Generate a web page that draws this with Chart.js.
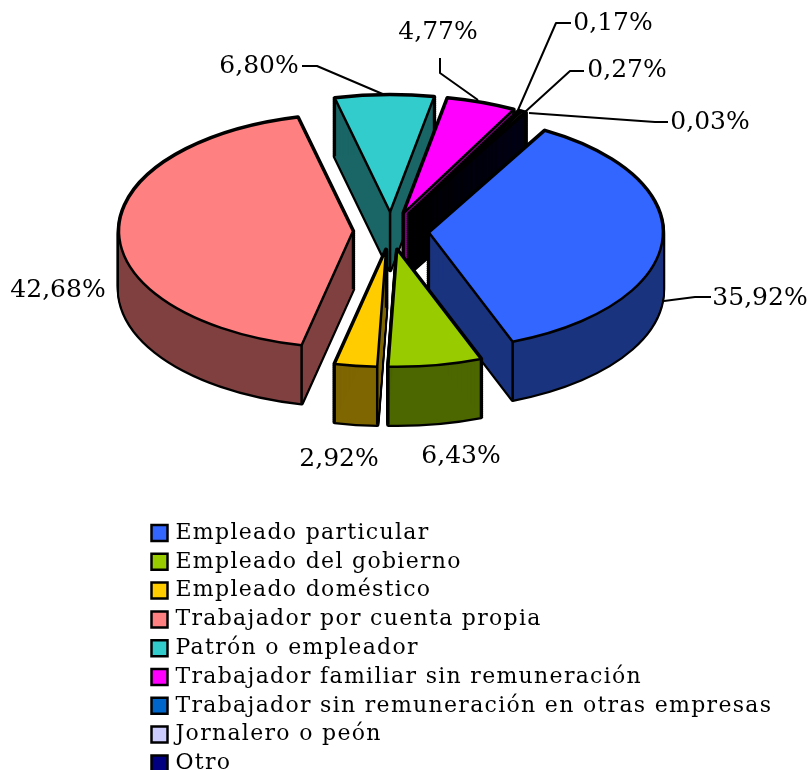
<!DOCTYPE html>
<html><head><meta charset="utf-8">
<style>html,body{margin:0;padding:0;background:#fff}canvas{display:block}</style>
<script src="https://cdn.jsdelivr.net/npm/chart.js@4"></script>
</head><body><canvas id="c" width="810" height="770"></canvas>
<script>
const categories = ["Empleado particular","Empleado del gobierno","Empleado doméstico","Trabajador por cuenta propia","Patrón o empleador","Trabajador familiar sin remuneración","Trabajador sin remuneración en otras empresas","Jornalero o peón","Otro"];
const shares = [35.92,6.43,2.92,42.68,6.80,4.77,0.17,0.27,0.03];
const topColors = ["#3366FF","#99CC00","#FFCC00","#FF8080","#33CCCC","#FF00FF","#0066CC","#CCCCFF","#000080"];
const wallColors = ["#1A337F","#4C6600","#7F6600","#804040","#1A6666","#800080","#003366","#666680","#000040"];
const paintOrder = [4,5,6,7,8,3,0,2,1];
const labelAnchors = [[760,298],[461,456],[339,459],[58,290],[259,66],[438,32],[613,23],[627,70],[710,122]];
const leaders = [[[664,301],[695,297],[711,297]],null,null,null,[[385,95],[317,66],[302,66]],[[478,100],[440,73],[440,58]],[[518,110],[556,23],[571,23]],[[525,112],[570,71],[584,71]],[[529,113],[655,122],[668,122]]];
const pie = {cx:391, cy:231, squash:0.5, depth:58};
const legendBox = {left:147.7, top:515.2};

function slicePath(ctx,a,dy){
  const off=a.options.offset, mid=(a.startAngle+a.endAngle)/2;
  const rx=a.outerRadius, ry=rx*pie.squash;
  const X=pie.cx+Math.cos(mid)*off, Y=pie.cy+Math.sin(mid)*off*pie.squash+dy;
  ctx.beginPath(); ctx.moveTo(X,Y);
  ctx.ellipse(X,Y,rx,ry,0,a.startAngle,a.endAngle);
  ctx.closePath();
  return {X,Y,rx,ry};
}
const pie3d = {
  id:'pie3d',
  afterLayout(chart){
    const l=chart.legend; const w=l.right-l.left;
    l.left=legendBox.left; l.top=legendBox.top; l.right=l.left+w; l.bottom=900;
  },
  beforeDraw(chart){ chart.ctx.letterSpacing='1.3px'; },
  beforeDatasetsDraw(chart){
    const ctx=chart.ctx, arcs=chart.getDatasetMeta(0).data;
    ctx.letterSpacing='0px';
    ctx.save(); ctx.lineJoin='round';
    paintOrder.forEach(i=>{
      const a=arcs[i];
      ctx.strokeStyle='#000'; ctx.lineWidth=4.5;
      for(let d=0;d<=pie.depth;d+=2){slicePath(ctx,a,d);ctx.stroke();}
      ctx.fillStyle=wallColors[i];
      for(let d=0;d<=pie.depth;d++){slicePath(ctx,a,d);ctx.fill();}
      const g=slicePath(ctx,a,0);
      ctx.lineWidth=2.5; ctx.beginPath();
      [[g.X,g.Y],[g.X+g.rx*Math.cos(a.startAngle),g.Y+g.ry*Math.sin(a.startAngle)],[g.X+g.rx*Math.cos(a.endAngle),g.Y+g.ry*Math.sin(a.endAngle)]].forEach(p=>{
        ctx.moveTo(p[0],p[1]);ctx.lineTo(p[0],p[1]+pie.depth);
      });
      ctx.stroke();
      slicePath(ctx,a,0); ctx.fillStyle=topColors[i]; ctx.fill();
      ctx.lineWidth=2.5; ctx.stroke();
    });
    ctx.restore();
    return false;
  },
  afterDraw(chart){
    const ctx=chart.ctx; ctx.save();
    ctx.strokeStyle='#000'; ctx.lineWidth=2; ctx.lineJoin='round';
    leaders.forEach(p=>{ if(!p) return; ctx.beginPath(); p.forEach((q,k)=>k?ctx.lineTo(q[0],q[1]):ctx.moveTo(q[0],q[1])); ctx.stroke(); });
    ctx.fillStyle='#000'; ctx.font='25px "DejaVu Serif"'; ctx.textAlign='center'; ctx.textBaseline='middle';
    shares.forEach((v,i)=>ctx.fillText(v.toFixed(2).replace('.',',')+'%',labelAnchors[i][0],labelAnchors[i][1]));
    ctx.restore();
  }
};
new Chart(document.getElementById('c'),{
  type:'pie',
  data:{labels:categories,datasets:[{data:shares,backgroundColor:topColors,borderColor:'#000',borderWidth:2.5,offset:38,radius:234}]},
  options:{
    responsive:false,animation:false,events:[],rotation:29.7,
    plugins:{
      tooltip:{enabled:false},title:{display:false},
      legend:{position:'chartArea',align:'start',labels:{color:'#000',font:{family:'"DejaVu Serif"',size:22},usePointStyle:true,pointStyle:'rect',boxWidth:10,boxHeight:16,padding:6.8}}
    }
  },
  plugins:[pie3d]
});
</script></body></html>
